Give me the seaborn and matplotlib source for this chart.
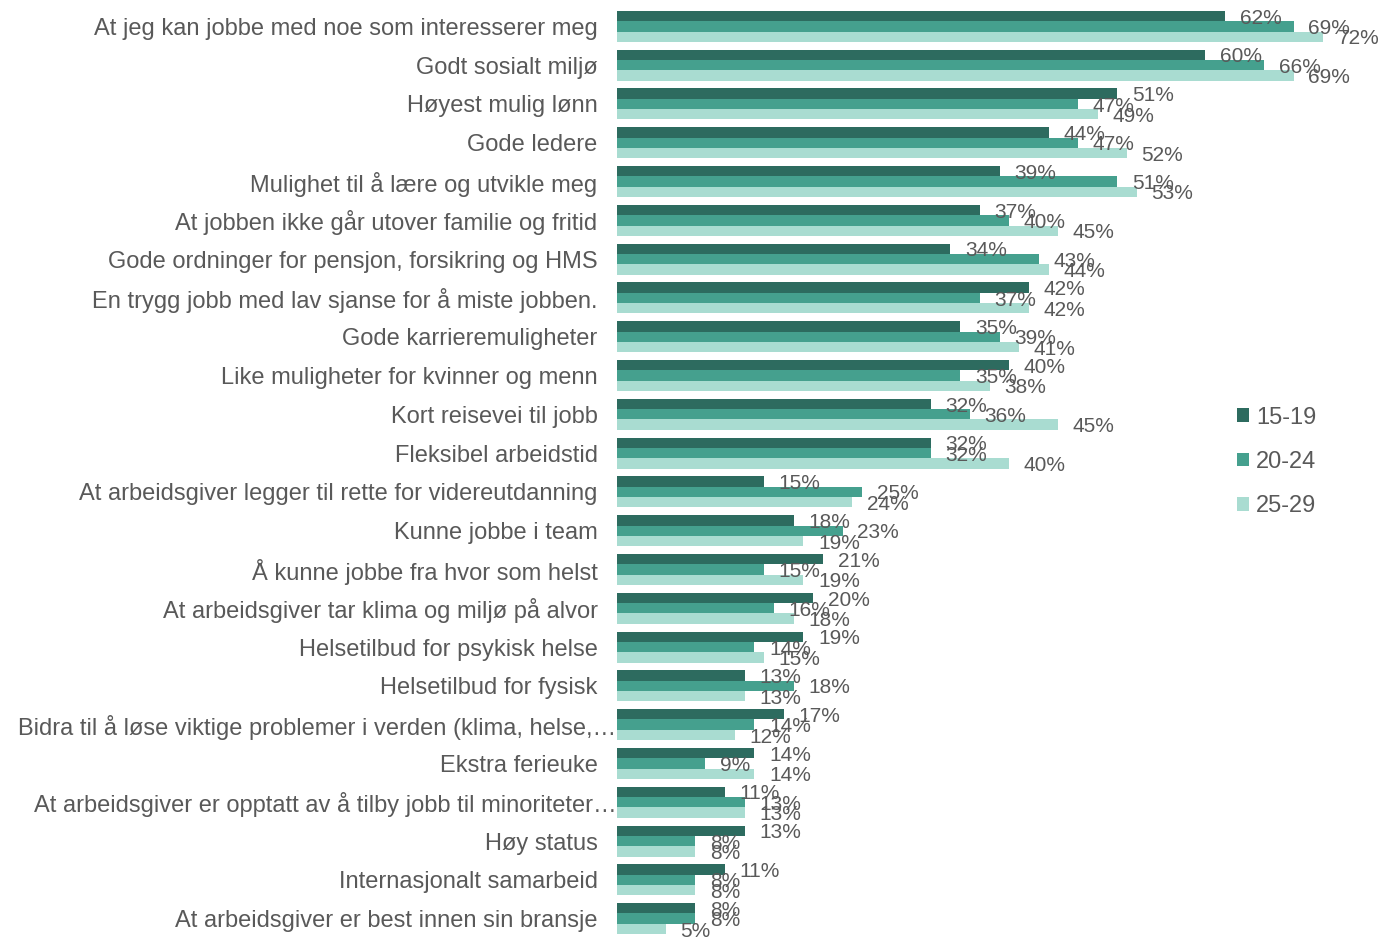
import matplotlib
matplotlib.use("Agg")
import matplotlib.pyplot as plt
import matplotlib.transforms as mtransforms
from matplotlib.patches import Patch
import seaborn as sns
import pandas as pd

categories = [
    "At jeg kan jobbe med noe som interesserer meg",
    "Godt sosialt miljø",
    "Høyest mulig lønn",
    "Gode ledere",
    "Mulighet til å lære og utvikle meg",
    "At jobben ikke går utover familie og fritid",
    "Gode ordninger for pensjon, forsikring og HMS",
    "En trygg jobb med lav sjanse for å miste jobben.",
    "Gode karrieremuligheter",
    "Like muligheter for kvinner og menn",
    "Kort reisevei til jobb",
    "Fleksibel arbeidstid",
    "At arbeidsgiver legger til rette for videreutdanning",
    "Kunne jobbe i team",
    "Å kunne jobbe fra hvor som helst",
    "At arbeidsgiver tar klima og miljø på alvor",
    "Helsetilbud for psykisk helse",
    "Helsetilbud for fysisk",
    "Bidra til å løse viktige problemer i verden (klima, helse,…",
    "Ekstra ferieuke",
    "At arbeidsgiver er opptatt av å tilby jobb til minoriteter…",
    "Høy status",
    "Internasjonalt samarbeid",
    "At arbeidsgiver er best innen sin bransje",
]
age_groups = ["15-19", "20-24", "25-29"]
v_15_19 = [62, 60, 51, 44, 39, 37, 34, 42, 35, 40, 32, 32, 15, 18, 21, 20, 19, 13, 17, 14, 11, 13, 11, 8]
v_20_24 = [69, 66, 47, 47, 51, 40, 43, 37, 39, 35, 36, 32, 25, 23, 15, 16, 14, 18, 14, 9, 13, 8, 8, 8]
v_25_29 = [72, 69, 49, 52, 53, 45, 44, 42, 41, 38, 45, 40, 24, 19, 19, 18, 15, 13, 12, 14, 13, 8, 8, 5]

colors = ["#2D6B5F", "#45A08E", "#A9DCD1"]
text_color = "#595959"

rows = []
for series, vals in zip(age_groups, [v_15_19, v_20_24, v_25_29]):
    for c, v in zip(categories, vals):
        rows.append({"kategori": c, "alder": series, "verdi": v})
df = pd.DataFrame(rows)

sns.set_style("white")
plt.rcParams["font.family"] = ["Liberation Sans", "DejaVu Sans"]

fig = plt.figure(figsize=(13.84, 9.38), dpi=100)
ax = fig.add_axes([617 / 1384, 0.0, 1 - 617 / 1384, 1 - 7 / 938])

sns.barplot(data=df, y="kategori", x="verdi", hue="alder", order=categories,
            hue_order=age_groups, palette=colors, width=0.8, orient="h",
            ax=ax, legend=False, saturation=1, edgecolor="none")

for cont in ax.containers:
    for bar in cont:
        w = bar.get_width()
        y = bar.get_y() + bar.get_height() / 2
        ax.annotate(f"{w:.0f}%", xy=(w, y), xytext=(10.5, -1.5),
                    textcoords="offset points", ha="left", va="center",
                    fontsize=15, color=text_color, annotation_clip=False)

ax.set_xlim(0, 78.2)
ax.set_ylim(len(categories) - 0.5, -0.5)
ax.set_xlabel("")
ax.set_ylabel("")
ax.set_xticks([])
for s in ax.spines.values():
    s.set_visible(False)
ax.tick_params(axis="y", length=0, pad=14, labelsize=17, labelcolor=text_color)

# truncated labels (ending with an ellipsis) run up to the axis in the original
shift = mtransforms.ScaledTranslation(19 / 100, 0, fig.dpi_scale_trans)
for lbl in ax.get_yticklabels():
    if lbl.get_text().endswith("…"):
        lbl.set_transform(lbl.get_transform() + shift)

handles = [Patch(facecolor=c, edgecolor="none", label=l) for c, l in zip(colors, age_groups)]
leg = fig.legend(handles=handles, loc="center left", bbox_to_anchor=(1237 / 1384, 1 - 462 / 938),
                 frameon=False, fontsize=17, handlelength=0.5, handleheight=0.5,
                 handletextpad=0.3, labelspacing=0.95, borderpad=0, borderaxespad=0,
                 labelcolor=text_color)

fig.savefig("out.png", dpi=100)
